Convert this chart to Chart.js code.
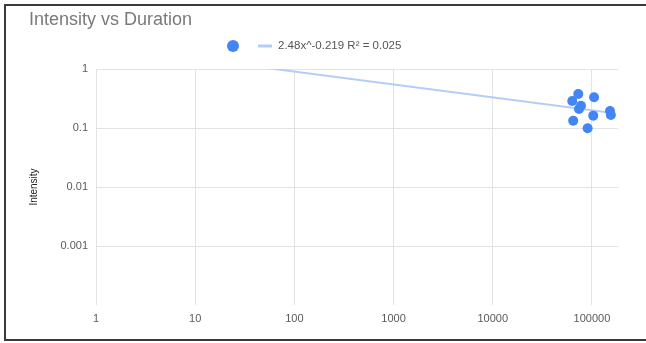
<!DOCTYPE html>
<html>
<head>
<meta charset="utf-8">
<script src="https://cdn.jsdelivr.net/npm/chart.js@4/dist/chart.umd.min.js"></script>
<style>
    html, body { margin: 0; padding: 0; background: #fff; }
    body { width: 646px; height: 343px; overflow: hidden; position: relative; }
    #frame {
        position: absolute; left: 4px; top: 4px; width: 700px; height: 337px;
        box-sizing: border-box; border: 2px solid #3a3a3a;
    }
    #wrap { position: absolute; left: 0; top: 0; width: 646px; height: 343px; }
</style>
</head>
<body>
<div id="frame"></div>
<div id="wrap"><canvas id="intensityChart"></canvas></div>
<script>
// 数据
const durations = [72800, 105000, 63300, 77500, 74000, 103000, 152000, 155000, 64700, 90400];
const intensities = [0.377, 0.331, 0.287, 0.239, 0.210, 0.162, 0.194, 0.166, 0.133, 0.099];

// 趋势线 2.48x^-0.219 的两个端点
const trendX = [1, 155000];
const trendY = [2.48, 0.181];
const trendLabel = '2.48x^-0.219 R\u00b2 = 0.025';

// 刻度
const xTicks = [1, 10, 100, 1000, 10000, 100000];
const yTicks = [0.0001, 0.001, 0.01, 0.1, 1];

const FONT = "Arial, 'Liberation Sans', sans-serif";

// 自定义图例
const legendPlugin = {
    id: 'sheetLegend',
    afterDraw(chart) {
        const c = chart.ctx;
        const ds = chart.data.datasets;
        const y = 46;
        c.save();
        c.fillStyle = ds[0].backgroundColor;
        c.beginPath();
        c.arc(233, y, 6, 0, Math.PI * 2);
        c.fill();
        c.strokeStyle = ds[1].borderColor;
        c.lineWidth = 3;
        c.beginPath();
        c.moveTo(258, y);
        c.lineTo(272, y);
        c.stroke();
        c.fillStyle = '#555';
        c.font = '11.5px ' + FONT;
        c.textBaseline = 'middle';
        c.fillText(trendLabel, 278, y);
        c.restore();
    }
};

const ctx = document.getElementById('intensityChart').getContext('2d');
const chart = new Chart(ctx, {
    type: 'scatter',
    data: {
        datasets: [{
            label: 'Intensity',
            data: durations.map((d, i) => ({ x: d, y: intensities[i] })),
            backgroundColor: '#4285F4',
            borderWidth: 0,
            pointRadius: 5,
            order: 1
        }, {
            type: 'line',
            label: trendLabel,
            data: trendX.map((d, i) => ({ x: d, y: trendY[i] })),
            borderColor: '#b4cdf8',
            borderWidth: 2,
            pointRadius: 0,
            fill: false,
            order: 2
        }]
    },
    options: {
        responsive: true,
        maintainAspectRatio: false,
        animation: false,
        layout: {
            padding: { left: 29, right: 28, top: 0, bottom: 0 }
        },
        plugins: {
            legend: { display: false },
            tooltip: { enabled: false },
            title: {
                display: true,
                text: 'Intensity vs Duration',
                align: 'start',
                color: '#7a7a7a',
                font: { family: FONT, size: 18, weight: 'normal' },
                padding: { top: 9, bottom: 38.4 }
            }
        },
        scales: {
            x: {
                type: 'logarithmic',
                min: 1,
                max: 183000,
                afterBuildTicks(scale) {
                    scale.ticks = xTicks.map(v => ({ value: v }));
                },
                afterFit(scale) {
                    scale.height = 38;
                },
                ticks: {
                    callback: v => String(v),
                    color: '#5a5a5a',
                    font: { family: FONT, size: 11 },
                    padding: 7,
                    maxRotation: 0,
                    autoSkip: false
                },
                grid: { color: '#e3e3e3', lineWidth: 1, drawTicks: false },
                border: { display: false }
            },
            y: {
                type: 'logarithmic',
                min: 0.0001,
                max: 1,
                afterBuildTicks(scale) {
                    scale.ticks = yTicks.map(v => ({ value: v }));
                },
                afterFit(scale) {
                    scale.width = 67;
                },
                title: {
                    display: true,
                    text: 'Intensity',
                    color: '#222',
                    font: { family: FONT, size: 10, lineHeight: 1 },
                    padding: 0
                },
                ticks: {
                    callback: v => (v === 0.0001 ? '' : String(v)),
                    color: '#5a5a5a',
                    font: { family: FONT, size: 11 },
                    padding: 8,
                    autoSkip: false
                },
                grid: {
                    color: c => (c.tick && c.tick.value === 0.0001 ? 'rgba(0,0,0,0)' : '#e3e3e3'),
                    lineWidth: 1,
                    drawTicks: false
                },
                border: { display: false }
            }
        }
    },
    plugins: [legendPlugin]
});
</script>
</body>
</html>
